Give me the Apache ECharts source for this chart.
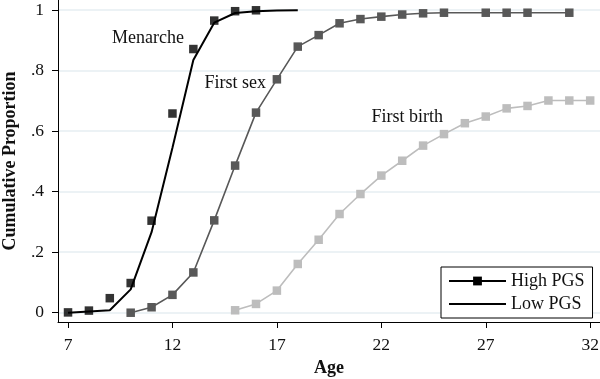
<!DOCTYPE html>
<html>
<head>
<meta charset="utf-8">
<script src="https://cdn.jsdelivr.net/npm/echarts@6/dist/echarts.min.js"></script>
<style>
  html, body { margin: 0; padding: 0; background: #fff; }
  #cdf_chart { width: 600px; height: 379px; }
</style>
</head>
<body>
<div id="cdf_chart"></div>
<script>
// values
var menarcheAges = [7, 8, 9, 10, 11, 12, 13, 14, 15, 16];
var menarcheHigh = [0.001, 0.007, 0.048, 0.098, 0.304, 0.658, 0.871, 0.965, 0.996, 0.999];
var menarcheLowAges = [7, 8, 9, 10, 11, 12, 13, 14, 15, 16, 17, 18];
var menarcheLow = [0, 0.004, 0.008, 0.077, 0.266, 0.545, 0.835, 0.958, 0.99, 0.996, 0.998, 0.999];
var sexAges = [10, 11, 12, 13, 14, 15, 16, 17, 18, 19, 20, 21, 22, 23, 24, 25, 27, 28, 29, 31];
var sexHigh = [0, 0.018, 0.059, 0.133, 0.305, 0.486, 0.661, 0.771, 0.879, 0.917, 0.956, 0.97, 0.978, 0.985, 0.989, 0.991, 0.991, 0.991, 0.991, 0.991];
var birthAges = [15, 16, 17, 18, 19, 20, 21, 22, 23, 24, 25, 26, 27, 28, 29, 30, 31, 32];
var birthHigh = [0.008, 0.029, 0.073, 0.161, 0.241, 0.326, 0.392, 0.453, 0.502, 0.552, 0.59, 0.626, 0.648, 0.675, 0.683, 0.701, 0.701, 0.701];
var xTicks = [7, 12, 17, 22, 27, 32];
var yTicks = [0, 0.2, 0.4, 0.6, 0.8, 1];
var notes = [
  { name: "Menarche", coord: [10.83, 0.905] },
  { name: "First sex", coord: [15.01, 0.757] },
  { name: "First birth", coord: [23.24, 0.645] }
];

var serif = "'Liberation Serif', 'DejaVu Serif', serif";
var ink = "#111";

function pairs(xs, ys) {
  return xs.map(function (x, i) { return [x, ys[i]]; });
}

function cdf_chart(dom) {
  var chart = echarts.init(document.getElementById(dom), null, { renderer: "canvas" });

  var option = {
    animation: false,
    grid: { left: 58, right: 0, top: 0, bottom: 57, containLabel: false, outerBoundsMode: "none" },
    legend: {
      data: [
        { name: "High PGS" },
        { name: "Low PGS", itemStyle: { opacity: 0 } }
      ],
      orient: "vertical",
      left: 441,
      top: 267,
      padding: [5, 8, 5, 7],
      itemGap: 5,
      itemWidth: 57,
      itemHeight: 11,
      borderColor: "#000",
      borderWidth: 1,
      borderRadius: 0,
      backgroundColor: "#fff",
      textStyle: { fontFamily: serif, fontSize: 18, color: ink }
    },
    xAxis: {
      type: "value",
      min: 6.52,
      max: 32.47,
      name: "Age",
      nameLocation: "middle",
      nameGap: 37,
      nameMoveOverlap: false,
      nameTextStyle: { fontFamily: serif, fontSize: 18, fontWeight: "bold", color: ink },
      axisLine: { onZero: false, lineStyle: { color: "#000", width: 1 } },
      axisTick: { customValues: xTicks, length: 6, lineStyle: { color: "#000" } },
      axisLabel: { customValues: xTicks, margin: 14, fontFamily: serif, fontSize: 17.5, color: ink },
      splitLine: { show: false }
    },
    yAxis: {
      type: "value",
      min: -0.0307,
      max: 1.033,
      name: "Cumulative Proportion",
      nameLocation: "middle",
      nameGap: 39,
      nameMoveOverlap: false,
      nameTextStyle: { fontFamily: serif, fontSize: 18, fontWeight: "bold", color: ink },
      axisLine: { show: true, onZero: false, lineStyle: { color: "#000", width: 1 } },
      axisTick: { show: true, customValues: yTicks, length: 6, lineStyle: { color: "#000" } },
      axisLabel: {
        customValues: yTicks,
        margin: 14,
        fontFamily: serif,
        fontSize: 17.5,
        color: ink,
        formatter: function (v) {
          if (v === 0) return "0";
          if (v === 1) return "1";
          return String(Math.round(v * 10) / 10).replace(/^0/, "");
        }
      },
      splitLine: { show: true, lineStyle: { color: "#e6eef2", width: 1.5 } }
    },
    series: [
      {
        // legend entries only
        name: "High PGS",
        type: "line",
        data: [],
        symbol: "rect",
        itemStyle: { color: "#000" },
        lineStyle: { color: "#000", width: 2 }
      },
      {
        name: "Low PGS",
        type: "line",
        data: [],
        symbol: "none",
        itemStyle: { color: "#000" },
        lineStyle: { color: "#000", width: 2 }
      },
      {
        name: "menarche low",
        type: "line",
        data: pairs(menarcheLowAges, menarcheLow),
        symbol: "none",
        lineStyle: { color: "#000", width: 2 },
        z: 3,
        markPoint: {
          symbol: "circle",
          symbolSize: 0,
          data: notes.map(function (n) {
            return { name: n.name, coord: n.coord, value: n.name };
          }),
          label: {
            show: true,
            position: "inside",
            formatter: "{b}",
            fontFamily: serif,
            fontSize: 18,
            color: ink
          }
        }
      },
      {
        name: "menarche high",
        type: "scatter",
        data: pairs(menarcheAges, menarcheHigh),
        symbol: "rect",
        symbolSize: 8.5,
        itemStyle: { color: "#000" },
        z: 4
      },
      {
        name: "first sex",
        type: "line",
        data: pairs(sexAges, sexHigh),
        symbol: "rect",
        symbolSize: 8.5,
        showAllSymbol: true,
        itemStyle: { color: "#585858" },
        lineStyle: { color: "#585858", width: 1.6 }
      },
      {
        name: "first birth",
        type: "line",
        data: pairs(birthAges, birthHigh),
        symbol: "rect",
        symbolSize: 8.5,
        showAllSymbol: true,
        itemStyle: { color: "#bdbdbd" },
        lineStyle: { color: "#bdbdbd", width: 1.6 }
      }
    ]
  };

  chart.setOption(option);
}

cdf_chart("cdf_chart");
</script>
</body>
</html>
